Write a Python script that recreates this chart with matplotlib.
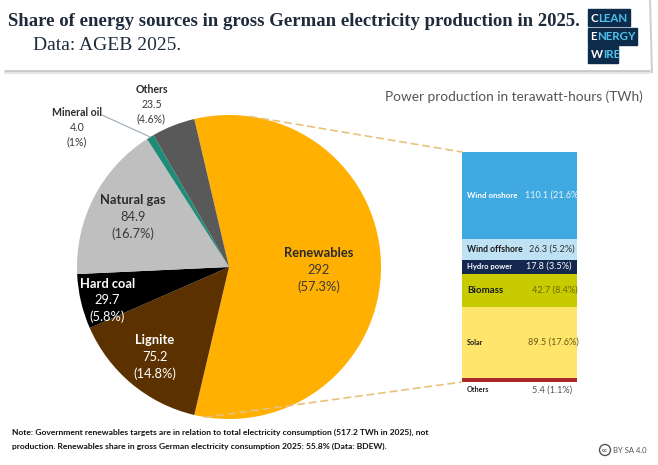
import numpy as np
import matplotlib.pyplot as plt
from matplotlib.patches import ConnectionPatch, Rectangle, Circle

W, H = 658, 465

# gross electricity production 2025 (TWh)
sources = ['Renewables', 'Lignite', 'Hard coal', 'Natural gas', 'Mineral oil', 'Others']
twh = [292, 75.2, 29.7, 84.9, 4.0, 23.5]
twh_txt = ['292', '75.2', '29.7', '84.9', '4.0', '23.5']
shares = ['57.3%', '14.8%', '5.8%', '16.7%', '1%', '4.6%']
pie_colors = ['#FFB000', '#5C3100', '#000000', '#BFBFBF', '#1F8C79', '#595959']

# renewables breakdown (TWh)
ren_names = ['Wind onshore', 'Wind offshore', 'Hydro power', 'Biomass', 'Solar', 'Others']
ren_twh = [110.1, 26.3, 17.8, 42.7, 89.5, 5.4]
ren_txt = ['110.1', '26.3', '17.8', '42.7', '89.5', '5.4']
ren_shares = ['21.6%', '5.2%', '3.5%', '8.4%', '17.6%', '1.1%']
ren_colors = ['#41A9E1', '#BEE1F3', '#14284F', '#C8CB00', '#FFE56B', '#A8282B']

SANS = 'Lato'

fig = plt.figure(figsize=(W / 100, H / 100), dpi=100)
fig.patch.set_facecolor('white')

# overlay in pixel coords for header / footer
ov = fig.add_axes([0, 0, 1, 1])
ov.set_xlim(0, W)
ov.set_ylim(H, 0)
ov.axis('off')

# header shadow
ov.plot([4, 650], [71, 71], color='#C8C8C8', lw=2.0, solid_capstyle='butt')
ov.plot([4, 650], [73, 73], color='#E6E6E6', lw=1.5, solid_capstyle='butt')
ov.plot([650, 652], [0, 72], color='#D0D0D0', lw=1.5)

ov.text(8, 22, 'Share of energy sources in gross German electricity production in 2025.',
        family='Liberation Serif', weight='bold', size=13.5, color='#1E2B3A', va='center')
ov.text(33, 45, 'Data: AGEB 2025.', family='Liberation Serif', size=14,
        color='#1E2B3A', va='center')

# logo
navy = '#0D2B4B'
for (x0, y0, w, txt) in [(588, 9, 42, 'CLEAN'), (588, 28, 49, 'ENERGY'), (588, 46, 30, 'WIRE')]:
    ov.add_patch(Rectangle((x0, y0), w, 17, color=navy))
    first = ov.text(x0 + 2.5, y0 + 9, txt[0], color='white', weight='bold', family=SANS,
                    size=8.3, va='center')
    ov.annotate(txt[1:], xy=(1, 0), xycoords=first, va='bottom', ha='left',
                color='#4FC3EE', weight='bold', family=SANS, size=8.3)

ov.text(643, 97, 'Power production in terawatt-hours (TWh)', family=SANS, size=9.8,
        color='#555555', ha='right', va='center')

ov.text(12, 432, 'Note: Government renewables targets are in relation to total electricity '
        'consumption (517.2 TWh in 2025), not', family=SANS, weight='bold', size=6.1,
        color='#111111', va='center')
ov.text(12, 446, 'production. Renewables share in gross German electricity consumption 2025: '
        '55.8% (Data: BDEW).', family=SANS, weight='bold', size=6.1,
        color='#111111', va='center')

# cc badge
ov.add_patch(Circle((605, 450), 5.5, fill=False, ec='#555555', lw=1))
ov.text(605, 450.5, 'cc', size=4.5, weight='bold', color='#555555', ha='center',
        va='center', family=SANS)
ov.text(613, 450.5, 'BY SA 4.0', size=5.5, color='#555555', va='center', family=SANS)

# pie
ax = fig.add_axes([77 / W, (H - 419) / H, 304 / W, 304 / H])
start = 180 * twh[0] / sum(twh)
wedges, _ = ax.pie(twh, colors=pie_colors, startangle=start, counterclock=False,
                   wedgeprops=dict(linewidth=0))
ax.set_xlim(-1, 1)
ax.set_ylim(-1, 1)
ax.axis('off')

label_pos = [(0.59, -0.02), (-0.49, -0.59), (-0.80, -0.22), (-0.63, 0.33),
             (-1.0, 0.92), (-0.51, 1.07)]
label_col = ['#2A2A2A', 'white', 'white', '#2A2A2A', '#2A2A2A', '#2A2A2A']
num_col = ['#3A3A3A', 'white', 'white', '#3A3A3A', '#3A3A3A', '#3A3A3A']
sizes = [9.3, 9.3, 9.3, 9.3, 7.6, 7.6]
steps = [17, 17, 16, 16.5, 14.5, 14.5]
for i, name in enumerate(sources):
    x, y = label_pos[i]
    lines = [(name, 'bold', label_col[i]), (twh_txt[i], 'normal', num_col[i]),
             ('(' + shares[i] + ')', 'normal', num_col[i])]
    for j, (t, wgt, c) in enumerate(lines):
        ax.annotate(t, (x, y), xytext=(0, -(j - 1) * steps[i] * 0.72),
                    textcoords='offset points', ha='center', va='center',
                    family=SANS, weight=wgt, size=sizes[i], color=c,
                    annotation_clip=False)

# leader line for mineral oil
mid = np.deg2rad(wedges[4].theta1 + wedges[4].theta2) / 2
ax.plot([-0.836, np.cos(mid)], [1.0, np.sin(mid)], color='#9AA9B5', lw=0.8,
        clip_on=False)

# renewables bar
bx = fig.add_axes([462 / W, (H - 382) / H, 115 / W, 230 / H])
total = sum(ren_twh)
bottoms = np.cumsum([0] + ren_twh[:-1])
bx.bar(0, ren_twh, bottom=bottoms, width=1, color=ren_colors, linewidth=0)
bx.set_xlim(-0.5, 0.5)
bx.set_ylim(total, 0)
bx.axis('off')

name_col = ['white', '#1A1A1A', 'white', '#1A1A1A', '#1A1A1A', '#1A1A1A']
val_col = ['#EAF5FC', '#333333', 'white', '#6B6B00', '#6B5A10', '#555555']
name_size = [5.8, 6.2, 5.5, 7.0, 5.2, 5.2]
val_px = [525, 529, 526, 532, 528, 532]
for i, name in enumerate(ren_names):
    yc = bottoms[i] + ren_twh[i] / 2
    dy = 0
    if name == 'Others':
        yc = total
        dy = -5.5
    bx.annotate(name, (-0.455, yc), xytext=(0, dy), textcoords='offset points',
                ha='left', va='center', family=SANS, weight='bold',
                size=name_size[i], color=name_col[i], annotation_clip=False)
    t = bx.annotate(ren_txt[i] + ' (' + ren_shares[i] + ')',
                    ((val_px[i] - 462) / 115 - 0.5, yc),
                    xytext=(0, dy), textcoords='offset points', ha='left',
                    va='center', family=SANS, size=6.6, color=val_col[i],
                    annotation_clip=False)
    if i == 0:
        t.set_clip_on(True)
        t.set_clip_box(bx.bbox)

# dashed connectors
for ang, yb in [(82, 0), (-99, total)]:
    a = np.deg2rad(ang)
    con = ConnectionPatch(xyA=(np.cos(a), np.sin(a)), coordsA=ax.transData,
                          xyB=(-0.5, yb), coordsB=bx.transData,
                          color='#E8C27C', lw=1.2, linestyle=(0, (4, 3)))
    fig.add_artist(con)

fig.savefig('out.png', dpi=100, facecolor='white')
